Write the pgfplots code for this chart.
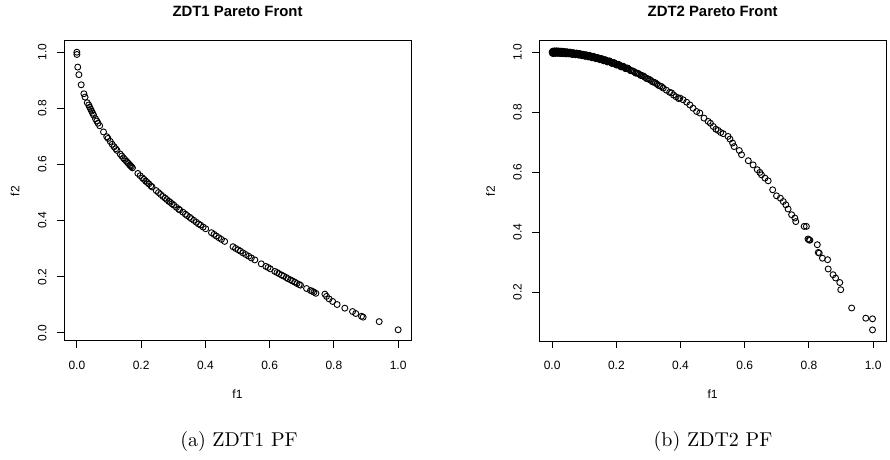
\documentclass[border=0pt]{standalone}
\usepackage{pgfplots}
\pgfplotsset{compat=1.18}
\usepackage{fontspec}
\newfontfamily\rsans{Liberation Sans}

% Pareto-front approximations for ZDT1 and ZDT2 (objective values f1, f2)
\pgfplotstableread{
f1 f2
0.0000 1.000
0.0001 0.992
0.0028 0.947
0.0064 0.920
0.0135 0.884
0.0219 0.852
0.0256 0.840
0.0324 0.820
0.037 0.812
0.040 0.804
0.043 0.797
0.046 0.790
0.049 0.783
0.052 0.776
0.058 0.763
0.062 0.755
0.066 0.747
0.071 0.738
0.083 0.716
0.093 0.699
0.097 0.693
0.104 0.682
0.110 0.672
0.116 0.663
0.121 0.656
0.125 0.650
0.135 0.637
0.140 0.630
0.145 0.623
0.149 0.618
0.154 0.612
0.158 0.607
0.161 0.603
0.165 0.598
0.167 0.595
0.170 0.592
0.173 0.588
0.190 0.568
0.197 0.560
0.204 0.552
0.209 0.547
0.214 0.541
0.219 0.536
0.224 0.531
0.230 0.524
0.234 0.520
0.247 0.507
0.254 0.500
0.261 0.493
0.268 0.486
0.275 0.480
0.280 0.475
0.286 0.469
0.291 0.465
0.296 0.460
0.302 0.455
0.310 0.447
0.317 0.441
0.320 0.438
0.330 0.430
0.338 0.423
0.343 0.418
0.351 0.412
0.356 0.407
0.364 0.401
0.372 0.394
0.379 0.388
0.385 0.384
0.393 0.377
0.401 0.371
0.419 0.357
0.427 0.351
0.434 0.345
0.442 0.339
0.450 0.333
0.460 0.326
0.486 0.307
0.494 0.301
0.502 0.296
0.509 0.291
0.517 0.285
0.526 0.279
0.535 0.273
0.543 0.267
0.554 0.260
0.574 0.246
0.588 0.237
0.595 0.233
0.602 0.228
0.616 0.219
0.623 0.215
0.629 0.211
0.637 0.206
0.644 0.202
0.652 0.197
0.657 0.193
0.665 0.189
0.671 0.185
0.678 0.181
0.685 0.176
0.692 0.172
0.696 0.170
0.715 0.158
0.727 0.151
0.733 0.148
0.738 0.145
0.744 0.141
0.772 0.138
0.777 0.130
0.785 0.121
0.796 0.112
0.810 0.101
0.834 0.088
0.858 0.076
0.868 0.069
0.886 0.059
0.891 0.056
0.941 0.040
1.000 0.011
}\zdtone

\pgfplotstableread{
f1 f2
0.000 1.000
0.001 0.996
0.002 1.003
0.003 1.000
0.004 0.995
0.005 0.997
0.006 1.000
0.007 1.004
0.008 1.003
0.009 1.000
0.010 0.996
0.011 0.997
0.012 1.000
0.013 1.004
0.014 1.003
0.015 1.000
0.016 0.996
0.017 0.997
0.018 1.000
0.019 1.004
0.020 1.002
0.021 1.000
0.022 0.996
0.023 0.997
0.024 0.999
0.025 1.003
0.026 1.002
0.027 0.999
0.028 0.995
0.029 0.996
0.030 0.999
0.031 1.003
0.032 1.001
0.034 0.999
0.035 0.995
0.036 0.996
0.038 0.999
0.039 1.002
0.040 1.001
0.042 0.998
0.043 0.994
0.044 0.995
0.046 0.998
0.047 1.001
0.048 1.000
0.050 0.998
0.052 0.994
0.053 0.995
0.055 0.997
0.056 1.000
0.058 0.999
0.060 0.996
0.062 0.992
0.063 0.993
0.065 0.996
0.066 0.998
0.068 0.997
0.070 0.995
0.072 0.991
0.073 0.992
0.075 0.994
0.076 0.997
0.078 0.996
0.080 0.994
0.082 0.990
0.083 0.991
0.085 0.993
0.086 0.995
0.088 0.994
0.090 0.992
0.092 0.988
0.093 0.989
0.095 0.991
0.096 0.993
0.098 0.992
0.100 0.990
0.102 0.986
0.103 0.987
0.105 0.989
0.106 0.991
0.108 0.990
0.110 0.988
0.112 0.984
0.113 0.985
0.116 0.987
0.117 0.989
0.119 0.987
0.122 0.985
0.124 0.981
0.125 0.982
0.128 0.984
0.129 0.986
0.131 0.984
0.134 0.982
0.136 0.978
0.137 0.979
0.140 0.980
0.141 0.982
0.143 0.981
0.146 0.979
0.148 0.975
0.149 0.976
0.152 0.977
0.153 0.979
0.155 0.977
0.158 0.975
0.160 0.971
0.161 0.972
0.164 0.973
0.165 0.975
0.167 0.973
0.170 0.971
0.172 0.967
0.174 0.968
0.177 0.969
0.178 0.971
0.180 0.969
0.184 0.966
0.186 0.962
0.188 0.963
0.191 0.964
0.193 0.965
0.195 0.963
0.198 0.961
0.200 0.957
0.202 0.957
0.205 0.958
0.207 0.959
0.209 0.957
0.212 0.955
0.214 0.951
0.216 0.951
0.219 0.952
0.221 0.953
0.223 0.951
0.226 0.949
0.228 0.945
0.230 0.945
0.233 0.946
0.235 0.947
0.237 0.945
0.240 0.942
0.244 0.938
0.248 0.938
0.252 0.937
0.256 0.934
0.260 0.930
0.264 0.930
0.268 0.929
0.272 0.926
0.276 0.922
0.280 0.922
0.285 0.920
0.289 0.916
0.294 0.912
0.298 0.911
0.303 0.909
0.307 0.906
0.312 0.901
0.316 0.900
0.321 0.898
0.326 0.894
0.331 0.889
0.336 0.887
0.341 0.885
0.346 0.880
0.356 0.873
0.366 0.866
0.372 0.864
0.378 0.857
0.386 0.851
0.394 0.845
0.398 0.847
0.408 0.841
0.419 0.833
0.429 0.824
0.439 0.813
0.450 0.802
0.460 0.797
0.473 0.780
0.486 0.769
0.493 0.763
0.502 0.752
0.510 0.743
0.517 0.739
0.525 0.732
0.533 0.728
0.548 0.719
0.554 0.710
0.562 0.697
0.567 0.685
0.583 0.672
0.590 0.658
0.611 0.638
0.626 0.624
0.639 0.608
0.647 0.599
0.652 0.591
0.663 0.580
0.673 0.571
0.687 0.541
0.699 0.521
0.711 0.513
0.720 0.502
0.728 0.491
0.735 0.477
0.746 0.458
0.756 0.447
0.759 0.435
0.785 0.419
0.792 0.419
0.797 0.377
0.800 0.374
0.803 0.373
0.826 0.358
0.829 0.332
0.832 0.330
0.842 0.313
0.858 0.308
0.860 0.277
0.875 0.258
0.883 0.247
0.896 0.232
0.899 0.208
0.933 0.147
0.977 0.113
0.998 0.111
0.998 0.074
}\zdttwo

\pgfplotsset{
  rplot/.style={
    scale only axis,
    height=150pt,
    axis line style={line width=0.5pt},
    tick style={black, line width=0.5pt},
    tick align=outside,
    major tick length=3.5pt,
    tick pos=left,
    xtick={0,0.2,0.4,0.6,0.8,1},
    /pgf/number format/fixed,
    /pgf/number format/fixed zerofill,
    /pgf/number format/precision=1,
    /pgf/number format/assume math mode=true,
    tick label style={font=\rsans\fontsize{6}{7}\selectfont},
    xticklabel style={anchor=north, inner sep=0pt},
    xticklabel shift=6.6pt,
    yticklabel style={rotate=90, anchor=south, inner sep=0pt},
    yticklabel shift=5.1pt,
    label style={font=\rsans\fontsize{6}{7}\selectfont},
    xlabel={f1}, ylabel={f2},
    xlabel style={at={(axis description cs:0.5,-0.191)}, anchor=base, inner sep=0pt},
    ylabel style={at={(axis description cs:-0.141,0.5)}, anchor=center, inner sep=0pt},
    clip=false,
  },
  rmark/.style={only marks, mark=o, mark size=1.5pt, black,
                mark options={line width=0.45pt, draw=black, fill=none}},
}
\newcommand\rtitle[1]{%
  \node[anchor=base, inner sep=0pt, font=\rsans\bfseries\fontsize{7.45}{9}\selectfont]
    at (rel axis cs:0.5,1.0833) {#1};}

\begin{document}
\begin{tikzpicture}
\useasboundingbox (0pt,0pt) rectangle (445pt,-230pt);

\begin{axis}[rplot,
  at={(32pt,-20.5pt)}, anchor=north west,
  width=173.5pt,
  xmin=-0.04, xmax=1.04, ymin=-0.029, ymax=1.04,
  ytick={0,0.2,0.4,0.6,0.8,1}]
  \addplot[rmark] table[x=f1, y=f2] {\zdtone};
  \rtitle{ZDT1 Pareto Front}
\end{axis}

\begin{axis}[rplot,
  at={(269.65pt,-20.5pt)}, anchor=north west,
  width=173.35pt,
  xmin=-0.04, xmax=1.04, ymin=0.037, ymax=1.037,
  ytick={0.2,0.4,0.6,0.8,1}]
  \addplot[rmark] table[x=f1, y=f2] {\zdttwo};
  \rtitle{ZDT2 Pareto Front}
\end{axis}

\node[anchor=base, font=\fontsize{10}{12}\selectfont] at (119.5pt,-223pt) {(a) ZDT1 PF};
\node[anchor=base, font=\fontsize{10}{12}\selectfont] at (356.5pt,-223pt) {(b) ZDT2 PF};
\end{tikzpicture}
\end{document}
